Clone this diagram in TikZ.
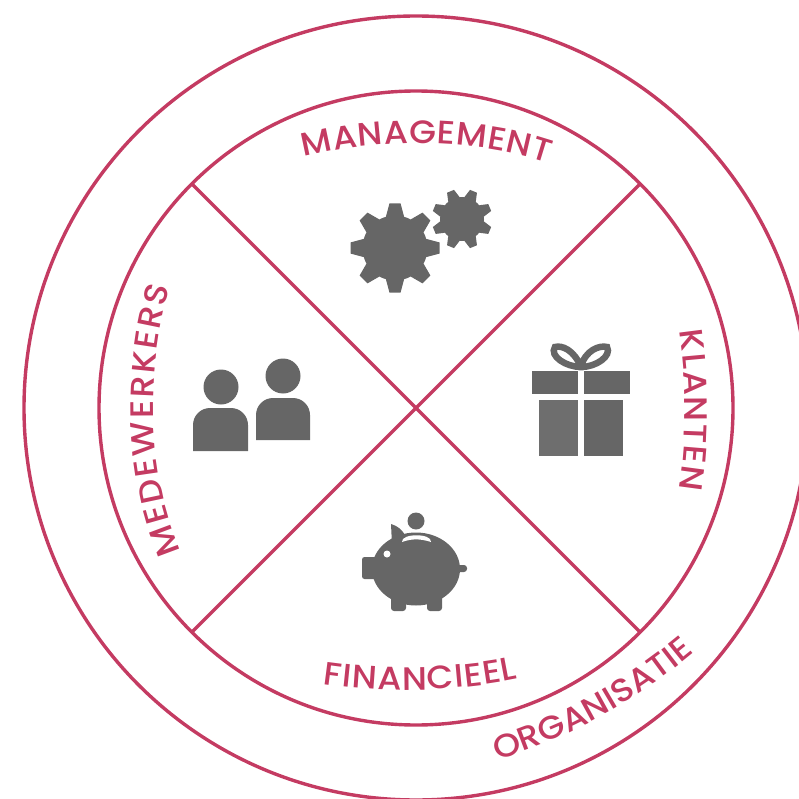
\documentclass[tikz,border=0pt]{standalone}
\usepackage{fontspec}
\usetikzlibrary{decorations.text}
\newfontfamily\lab[FakeStretch=1.07]{Poppins Medium}
\definecolor{ring}{HTML}{C43B62}
\definecolor{icon}{HTML}{666666}
\definecolor{iconlt}{HTML}{6E6E6E}
\tikzset{
  ringline/.style={draw=ring,line width=3.4pt}
}
\newcommand{\ringtext}[5]{%
  \path[decorate,decoration={text along path,text align={fit to path},text={|\fontsize{32.5pt}{32.5pt}\lab\color{ring}|#1}}] (#2) .. controls (#3) and (#4) .. (#5);}
\newcommand{\gearicon}[5]{% cx cy router rroot rot
  \begin{scope}[shift={(#1,#2)},rotate=#5]
    \fill[icon] (0,0) circle[radius=#4];
    \foreach \a in {0,45,...,315}{
      \fill[icon,rotate=\a] (-0.2*#3,-0.5*#3) -- (-0.2*#3,-0.72*#3) -- (-0.125*#3,-#3) -- (0.125*#3,-#3) -- (0.2*#3,-0.72*#3) -- (0.2*#3,-0.5*#3) -- cycle;
    }
  \end{scope}}
\begin{document}
\begin{tikzpicture}[x=1pt,y=-1pt]
\useasboundingbox (0,0) rectangle (798,799);
\coordinate (c) at (416,408);
\coordinate (nw) at (192,184);
\coordinate (ne) at (640,184);
\coordinate (sw) at (192,632);
\coordinate (se) at (640,632);
% rings
\draw[ringline] (c) circle[radius=392];
\draw[ringline] (c) circle[radius=317];
\draw[ringline] (nw) -- (se);
\draw[ringline] (ne) -- (sw);
% labels
\coordinate (m1) at (304,157); \coordinate (m2) at (380,138); \coordinate (m3) at (475,138); \coordinate (m4) at (548,163);
\ringtext{MANAGEMENT}{m1}{m2}{m3}{m4}
\coordinate (k1) at (679,331); \coordinate (k2) at (687,385); \coordinate (k3) at (687,440); \coordinate (k4) at (679,489);
\ringtext{KLANTEN}{k1}{k2}{k3}{k4}
\coordinate (f1) at (323,684); \coordinate (f2) at (385,693); \coordinate (f3) at (455,692); \coordinate (f4) at (518,679);
\ringtext{FINANCIEEL}{f1}{f2}{f3}{f4}
\coordinate (w1) at (181,551); \coordinate (w2) at (146,470); \coordinate (w3) at (146,370); \coordinate (w4) at (170,287);
\ringtext{MEDEWERKERS}{w1}{w2}{w3}{w4}
\coordinate (o1) at (497,760); \coordinate (o2) at (565,740); \coordinate (o3) at (630,705); \coordinate (o4) at (689,657);
\ringtext{ORGANISATIE}{o1}{o2}{o3}{o4}
% gears
\gearicon{395}{248}{44.5}{32.5}{0}
\gearicon{462}{219}{30}{22}{22.5}
% gift
\draw[icon,line width=6.5pt] (581,367) .. controls (574,350) and (562,345) .. (555,347) .. controls (549,356) and (566,367) .. (581,367) .. controls (585,350) and (600,345) .. (607,347) .. controls (612,356) and (596,367) .. (581,367) -- cycle;
\fill[icon] (532,371) rectangle (578,394);
\fill[icon] (584,371) rectangle (630,394);
\fill[iconlt] (539,400) rectangle (578,456);
\fill[icon] (584,400) rectangle (623,456);
% piggy bank
\fill[icon] (416,521) circle[radius=8.5];
\fill[icon] (391,524) .. controls (398,526) and (402,530) .. (405,535) -- (392,545) -- cycle;
\fill[icon] (416,569) ellipse[x radius=44,y radius=36.5];
\fill[icon,rounded corners=2.5pt] (362,557) rectangle (380,579);
\fill[icon,rounded corners=3pt] (455,565) rectangle (467,572);
\fill[icon,rounded corners=3pt] (391,590) rectangle (406,611);
\fill[icon,rounded corners=3pt] (427,590) rectangle (442,611);
\fill[white] (387,554) circle[radius=3.5];
\fill[white] (402,542) .. controls (401,533) and (432,533) .. (431,542) .. controls (420,538.5) and (412,538.5) .. (402,542) -- cycle;
% people
\fill[icon] (221,387) circle[radius=17.5];
\fill[icon] (283,376) circle[radius=17.5];
\fill[icon] (193,451) [rounded corners=17pt] -- (193,408) -- (248,408) [sharp corners] -- (248,451) -- cycle;
\fill[icon] (256,440) [rounded corners=17pt] -- (256,398) -- (310,398) [sharp corners] -- (310,440) -- cycle;
\end{tikzpicture}
\end{document}
